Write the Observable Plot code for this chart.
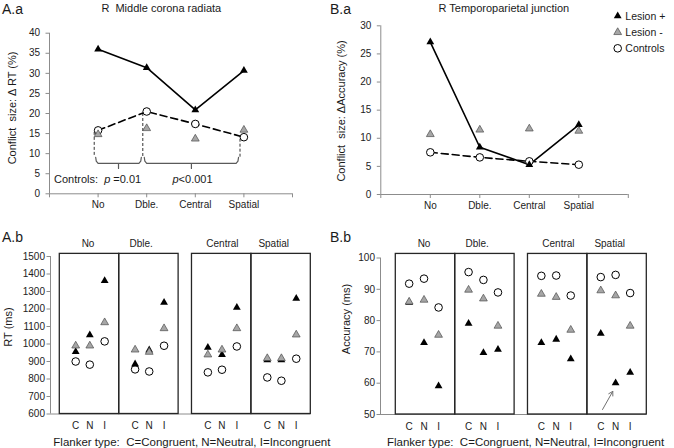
<!DOCTYPE html>
<html><head><meta charset="utf-8">
<script src="https://cdn.jsdelivr.net/npm/d3@7"></script>
<script src="https://cdn.jsdelivr.net/npm/@observablehq/plot@0.6"></script>
<style>
html,body{margin:0;padding:0;background:#fff;}
#root{position:relative;width:674px;height:448px;font-family:"Liberation Sans",Arial,sans-serif;color:#1a1a1a;overflow:hidden;background:#fff;}
#root svg{position:absolute;left:0;top:0;}
.t{position:absolute;white-space:pre;line-height:1;}
</style></head><body><div id="root"></div>
<script>
// ---------- data ----------
const conditions = ["No", "Dble.", "Central", "Spatial"];
const flankers = ["C", "N", "I"];
const seriesNames = ["Lesion +", "Lesion -", "Controls"];

// A.a  Conflict size: ΔRT (%)  — R Middle corona radiata
const aaLesionPlus  = [36.0, 31.4, 20.9, 30.7];
const aaLesionMinus = [14.8, 16.3, 13.7, 15.9];
const aaControls    = [15.8, 20.5, 17.4, 14.1];
const aaTests = [{from: 0, to: 1, p: "=0.01"}, {from: 1, to: 3, p: "<0.001"}];

// B.a  Conflict size: ΔAccuracy (%) — R Temporoparietal junction
const baLesionPlus  = [27.1, 8.4, 5.3, 12.4];
const baLesionMinus = [10.7, 11.5, 11.7, 11.3];
const baControls    = [7.5, 6.6, 5.9, 5.3];

// A.b  RT (ms): [condition][C, N, I]
const abLesionPlus  = [[956, 1051, 1361], [885, 965, 1237], [980, 939, 1209], [908, 908, 1260]];
const abLesionMinus = [[990, 990, 1123], [967, 954, 1089], [939, 967, 1089], [918, 918, 1053]];
const abControls    = [[900, 882, 1015], [855, 843, 990], [838, 853, 986], [809, 790, 916]];

// B.b  Accuracy: [condition][C, N, I]
const bbLesionPlus  = [[85.8, 72.9, 59.1], [79.1, 69.7, 70.8], [72.9, 74.0, 67.7], [75.9, 60.1, 63.4]];
const bbLesionMinus = [[86.0, 86.6, 75.4], [89.8, 87.0, 78.3], [88.5, 87.5, 77.0], [89.6, 88.0, 78.3]];
const bbControls    = [[91.8, 93.4, 84.2], [95.5, 93.0, 89.0], [94.3, 94.4, 88.0], [93.9, 94.6, 88.8]];
const bbArrowTarget = {cond: 3, flanker: 1};

// ---------- layout ----------
const W = 674, H = 448;
const FONT = '"Liberation Sans", Arial, sans-serif';
const baseStyle = {background: "transparent", fontFamily: FONT, fontSize: "10px", overflow: "visible", color: "#222"};
const AXIS = "#8c8c8c";
const GRAY = "#a6a6a6";
const boxStart = [0, 4, 8.9, 12.9], boxW = 4, xMax = 16.9;
const facetLabelOff = [1.9, 1.48, 2.05, 1.5];
const root = document.getElementById("root");

function mount(svg) { root.appendChild(svg); }
function addText(html, x, y, {size = 11, anchor = "start", rotate = 0, color = "#1a1a1a"} = {}) {
  const el = document.createElement("div");
  el.className = "t";
  el.innerHTML = html;
  el.style.fontSize = size + "px";
  el.style.color = color;
  el.style.left = x + "px";
  el.style.top = y + "px";
  const tx = anchor === "middle" || rotate ? "-50%" : anchor === "end" ? "-100%" : "0";
  el.style.transform = `translate(${tx},-50%)` + (rotate ? ` rotate(${rotate}deg)` : "");
  root.appendChild(el);
}

// ---------- line panels ----------
function linePanel({plus, minus, ctrl, yMax, yStep, left, right, top, bottom, tickPad, extra = []}) {
  const rows = conditions.map((c, i) => ({x: i + 1, c, plus: plus[i], minus: minus[i], ctrl: ctrl[i]}));
  return Plot.plot({
    width: W, height: H,
    marginLeft: left, marginRight: W - right, marginTop: top, marginBottom: H - bottom,
    x: {domain: [0, 5]}, y: {domain: [0, yMax]},
    style: baseStyle,
    marks: [
      Plot.ruleX([0], {stroke: AXIS}),
      Plot.ruleY([0], {stroke: AXIS}),
      Plot.axisY({ticks: d3.range(0, yMax + 0.01, yStep), tickFormat: "d", tickSize: 3.5, tickPadding: tickPad, stroke: AXIS, fill: "#222", label: null}),
      Plot.axisX({ticks: [0, 1, 2, 3, 4, 5], tickFormat: i => conditions[i - 1] ?? "", tickSize: 4, tickPadding: 3, stroke: AXIS, fill: "#222", label: null}),
      ...extra,
      Plot.line(rows, {x: "x", y: "ctrl", stroke: "black", strokeWidth: 1.6, strokeDasharray: "7,4"}),
      Plot.line(rows, {x: "x", y: "plus", stroke: "black", strokeWidth: 1.6}),
      Plot.dot(rows, {x: "x", y: "ctrl", r: 3.8, fill: "white", stroke: "black", strokeWidth: 1}),
      Plot.dot(rows, {x: "x", y: "plus", symbol: "triangle", r: 2.9, fill: "black"}),
      Plot.dot(rows, {x: "x", y: "minus", symbol: "triangle", r: 2.9, fill: GRAY, stroke: "#4d4d4d", strokeWidth: 0.7})
    ]
  });
}

// brackets for A.a (controls comparisons)
const bracketY = 7.6, bracketTopY = 9.1, bracketTickY = 6.3, dashNudge = -0.08;
const dashIdx = [...new Set(aaTests.flatMap(t => [t.from, t.to]))];
const dashRows = dashIdx.map(i => ({x: i + 1 + dashNudge, y1: aaControls[i] - 0.5, y2: bracketTopY}));
const bracketRows = aaTests.flatMap((t, k) => {
  const xa = t.from + 1 + dashNudge + 0.03, xb = t.to + 1 + dashNudge - 0.03, m = (xa + xb) / 2;
  return [[xa, bracketTopY], [xa + 0.012, 8.15], [xa + 0.05, bracketY], [m, bracketY], [m, bracketTickY], [m, bracketY],
          [xb - 0.05, bracketY], [xb - 0.012, 8.15], [xb, bracketTopY]].map(([x, y]) => ({k, x, y}));
});

mount(linePanel({
  plus: aaLesionPlus, minus: aaLesionMinus, ctrl: aaControls, yMax: 40, yStep: 5,
  left: 49, right: 292, top: 32.7, bottom: 193.3, tickPad: 6,
  extra: [
    Plot.ruleX(dashRows, {x: "x", y1: "y1", y2: "y2", stroke: "#333", strokeWidth: 1, strokeDasharray: "3,2"}),
    Plot.line(bracketRows, {x: "x", y: "y", z: "k", stroke: "#5a5a5a", strokeWidth: 1.2})
  ]
}));

mount(linePanel({
  plus: baLesionPlus, minus: baLesionMinus, ctrl: baControls, yMax: 30, yStep: 5,
  left: 380.3, right: 627.8, top: 25.3, bottom: 194, tickPad: 6
}));

// ---------- dot panels ----------
function dotPanel({plus, minus, ctrl, off, yDomain, yTicks, boxTop, left, xMin, right, top, bottom, extra = () => []}) {
  const rows = [];
  conditions.forEach((c, g) => flankers.forEach((f, k) => rows.push({
    g, k, f, x: boxStart[g] + off[k], plus: plus[g][k], minus: minus[g][k], ctrl: ctrl[g][k]
  })));
  const boxes = conditions.map((c, g) => ({c, x1: boxStart[g], x2: boxStart[g] + boxW, lx: boxStart[g] + facetLabelOff[g]}));
  return Plot.plot({
    width: W, height: H,
    marginLeft: left, marginRight: W - right, marginTop: top, marginBottom: H - bottom,
    x: {domain: [xMin, xMax], axis: null}, y: {domain: yDomain, axis: null},
    style: baseStyle,
    marks: [
      Plot.ruleY([yDomain[0]], {stroke: AXIS}),
      Plot.ruleX([xMin], {stroke: AXIS}),
      Plot.axisY({ticks: yTicks, tickFormat: "d", tickSize: 3.5, tickPadding: 2, stroke: AXIS, fill: "#222", label: null}),
      Plot.rect(boxes, {x1: "x1", x2: "x2", y1: yDomain[0], y2: boxTop, fill: "none", stroke: "#262626", strokeWidth: 1.3}),
      Plot.text(boxes, {x: "lx", y: boxTop, dy: -10, text: "c", fill: "#222"}),
      Plot.text(rows, {x: "x", y: yDomain[0], dy: 12, text: "f", fill: "#222"}),
      Plot.dot(rows, {x: "x", y: "ctrl", r: 3.8, fill: "white", stroke: "black", strokeWidth: 1}),
      Plot.dot(rows, {x: "x", y: "plus", symbol: "triangle", r: 2.9, fill: "black"}),
      Plot.dot(rows, {x: "x", y: "minus", symbol: "triangle", r: 2.9, fill: GRAY, stroke: "#4d4d4d", strokeWidth: 0.7}),
      ...extra(rows)
    ]
  });
}

const abOff = [1.07, 2.02, 3.02];
const bbOff = [0.9, 1.9, 2.88];

mount(dotPanel({
  plus: abLesionPlus, minus: abLesionMinus, ctrl: abControls, off: abOff,
  yDomain: [600, 1500], yTicks: d3.range(600, 1501, 100), boxTop: 1515,
  left: 50, xMin: -0.626, right: 310.3, top: 256, bottom: 413.5
}));

mount(dotPanel({
  plus: bbLesionPlus, minus: bbLesionMinus, ctrl: bbControls, off: bbOff,
  yDomain: [50, 100], yTicks: d3.range(50, 101, 10), boxTop: 101.3,
  left: 380, xMin: -1.03, right: 646.3, top: 257.5, bottom: 414,
  extra: rows => {
    const t = rows.find(r => r.g === bbArrowTarget.cond && r.k === bbArrowTarget.flanker);
    return [Plot.arrow([t], {x1: d => d.x - 0.88, y1: 51.6, x2: d => d.x - 0.19, y2: d => d.plus - 2.7,
      stroke: "#707070", strokeWidth: 1, headLength: 7})];
  }
}));

// ---------- legend ----------
const leg = d3.create("svg").attr("width", W).attr("height", H).style("position", "absolute").style("left", 0).style("top", 0);
const legY = [16, 32.3, 48.3];
const legStyle = [
  {type: d3.symbolTriangle, fill: "black", stroke: "none", sw: 0},
  {type: d3.symbolTriangle, fill: GRAY, stroke: "#4d4d4d", sw: 0.7},
  {type: d3.symbolCircle, fill: "white", stroke: "black", sw: 1}
];
seriesNames.forEach((name, i) => {
  const s = legStyle[i];
  const r = i < 2 ? 2.9 : 3.8;
  leg.append("path").attr("transform", `translate(617.7,${legY[i]})`)
    .attr("d", d3.symbol(s.type, Math.PI * r * r)()).attr("fill", s.fill).attr("stroke", s.stroke).attr("stroke-width", s.sw);
});
root.appendChild(leg.node());
seriesNames.forEach((name, i) => addText(name, 625.3, legY[i], {size: 10.5}));

// ---------- texts ----------
addText("A.a", 2, 8.5, {size: 14});
addText("B.a", 330, 8.5, {size: 14});
addText("A.b", 2, 236.5, {size: 14});
addText("B.b", 330, 236.5, {size: 14});
addText("R  Middle corona radiata", 161.3, 8.3, {size: 11, anchor: "middle"});
addText("R Temporoparietal junction", 503.8, 8.3, {size: 11, anchor: "middle"});
addText("Conflict  size: \u0394 RT (%)", 11.7, 108, {size: 11, rotate: -90});
addText("Conflict  size: \u0394Accuracy (%)", 340.5, 110.5, {size: 11, rotate: -90});
addText("RT (ms)", 8, 327, {size: 11, rotate: -90});
addText("Accuracy (ms)", 346, 319, {size: 11, rotate: -90});
addText("Controls:  <i>p</i> " + aaTests[0].p, 54, 179.3, {size: 11});
addText("<i>p</i>" + aaTests[1].p, 192.5, 179.3, {size: 11, anchor: "middle"});
addText("Flanker type:  C=Congruent, N=Neutral, I=Incongruent", 53.3, 443, {size: 11.5});
addText("Flanker type:  C=Congruent, N=Neutral, I=Incongruent", 387, 443, {size: 11.5});
</script>
</body></html>
